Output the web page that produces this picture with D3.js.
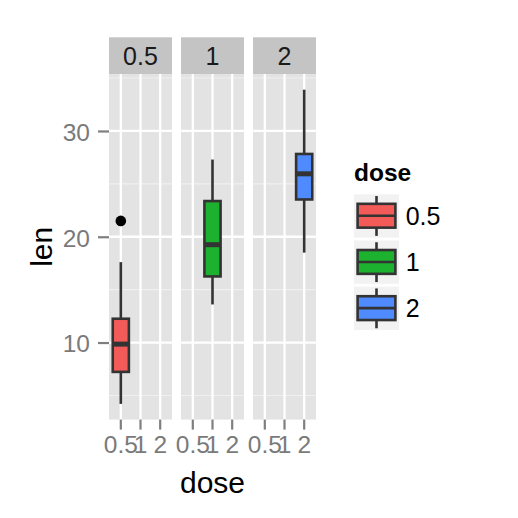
<!DOCTYPE html>
<html>
<head>
<meta charset="utf-8">
<script src="https://cdn.jsdelivr.net/npm/d3@7"></script>
<style>
  body { margin: 0; background: #fff; }
  text { font-family: "Liberation Sans", Arial, Helvetica, sans-serif; }
</style>
</head>
<body>
<div id="chart"></div>
<script>
// ToothGrowth len by dose, boxplot stats
const doses = ["0.5", "1", "2"];
const lenMin = [4.2, 13.6, 18.5];
const lenQ1 = [7.225, 16.25, 23.525];
const lenMedian = [9.85, 19.25, 25.95];
const lenQ3 = [12.25, 23.375, 27.825];
const lenMax = [17.6, 27.3, 33.9];
const lenOutliers = [[21.5], [], []];
const yTicks = [10, 20, 30];
const yMinorTicks = [5, 15, 25, 35];
const fills = ["#F35B59", "#1CB22F", "#4F8AFF"];

const width = 518,
  height = 518;
const plot = { left: 109, right: 316, top: 74, bottom: 419.6 };
const stripTop = 37.3;

const boxes = doses.map((dose, i) => ({
  dose,
  min: lenMin[i],
  q1: lenQ1[i],
  median: lenMedian[i],
  q3: lenQ3[i],
  max: lenMax[i],
  outliers: lenOutliers[i],
}));

const svg = d3
  .select("#chart")
  .append("svg")
  .attr("width", width)
  .attr("height", height);

// facet panels
const facet = d3
  .scaleBand()
  .domain(doses)
  .range([plot.left, plot.right])
  .paddingInner(0.125)
  .paddingOuter(0);

// discrete x inside each panel
const x = d3
  .scaleBand()
  .domain(doses)
  .range([0, facet.bandwidth()])
  .paddingInner(0)
  .paddingOuter(0.1);

const y = d3
  .scaleLinear()
  .domain([2.715, 35.385])
  .range([plot.bottom, plot.top]);

const colour = d3.scaleOrdinal().domain(doses).range(fills);

const xc = (d) => x(d) + x.bandwidth() / 2;
const boxW = x.bandwidth() * 0.82;

const panels = svg
  .selectAll(".panel")
  .data(boxes)
  .join("g")
  .attr("class", "panel")
  .attr("transform", (d) => `translate(${facet(d.dose)}, 0)`);

// strip
panels
  .append("rect")
  .attr("y", stripTop)
  .attr("width", facet.bandwidth())
  .attr("height", plot.top - stripTop)
  .attr("fill", "#C4C4C4");
panels
  .append("text")
  .attr("x", facet.bandwidth() / 2)
  .attr("y", (stripTop + plot.top) / 2 + 9.3)
  .attr("text-anchor", "middle")
  .attr("font-size", 25)
  .attr("fill", "#1A1A1A")
  .text((d) => d.dose);

// panel background + grid
panels
  .append("rect")
  .attr("y", plot.top)
  .attr("width", facet.bandwidth())
  .attr("height", plot.bottom - plot.top)
  .attr("fill", "#E3E3E3");

panels
  .selectAll(".minor")
  .data(yMinorTicks)
  .join("line")
  .attr("class", "minor")
  .attr("x1", 0)
  .attr("x2", facet.bandwidth())
  .attr("y1", (d) => y(d))
  .attr("y2", (d) => y(d))
  .attr("stroke", "#F0F0F0")
  .attr("stroke-width", 1.1);

panels
  .selectAll(".hmajor")
  .data(yTicks)
  .join("line")
  .attr("class", "hmajor")
  .attr("x1", 0)
  .attr("x2", facet.bandwidth())
  .attr("y1", (d) => y(d))
  .attr("y2", (d) => y(d))
  .attr("stroke", "#fff")
  .attr("stroke-width", 2.3);

panels
  .selectAll(".vmajor")
  .data(doses)
  .join("line")
  .attr("class", "vmajor")
  .attr("x1", xc)
  .attr("x2", xc)
  .attr("y1", plot.top)
  .attr("y2", plot.bottom)
  .attr("stroke", "#fff")
  .attr("stroke-width", 2.3);

// x axis per panel
panels.each(function () {
  const ax = d3
    .select(this)
    .append("g")
    .attr("transform", `translate(0, ${plot.bottom})`)
    .call(d3.axisBottom(x).tickSize(10).tickPadding(6));
  ax.select(".domain").remove();
  ax.selectAll(".tick line").attr("stroke", "#7F7F7F").attr("stroke-width", 2.2);
  ax.selectAll(".tick text")
    .attr("font-size", 24.5)
    .attr("fill", "#7A7A7A")
    .attr("font-family", null);
});

// boxplots
const bx = panels.append("g").attr("transform", (d) => `translate(${xc(d.dose)}, 0)`);

bx.append("line")
  .attr("y1", (d) => y(d.max))
  .attr("y2", (d) => y(d.q3))
  .attr("stroke", "#333")
  .attr("stroke-width", 2.6);
bx.append("line")
  .attr("y1", (d) => y(d.q1))
  .attr("y2", (d) => y(d.min))
  .attr("stroke", "#333")
  .attr("stroke-width", 2.6);
bx.append("rect")
  .attr("x", -boxW / 2)
  .attr("width", boxW)
  .attr("y", (d) => y(d.q3))
  .attr("height", (d) => y(d.q1) - y(d.q3))
  .attr("fill", (d) => colour(d.dose))
  .attr("stroke", "#333")
  .attr("stroke-width", 2.6);
bx.append("line")
  .attr("x1", -boxW / 2)
  .attr("x2", boxW / 2)
  .attr("y1", (d) => y(d.median))
  .attr("y2", (d) => y(d.median))
  .attr("stroke", "#333")
  .attr("stroke-width", 5);
bx.selectAll("circle")
  .data((d) => d.outliers)
  .join("circle")
  .attr("cy", (d) => y(d))
  .attr("r", 5.3)
  .attr("fill", "#000");

// y axis
const yAxis = svg
  .append("g")
  .attr("transform", `translate(${plot.left}, 0)`)
  .call(d3.axisLeft(y).tickValues(yTicks).tickSize(11).tickPadding(8));
yAxis.select(".domain").remove();
yAxis.selectAll(".tick line").attr("stroke", "#7F7F7F").attr("stroke-width", 2.2);
yAxis.selectAll(".tick text")
  .attr("font-size", 24.5)
  .attr("fill", "#7A7A7A")
  .attr("font-family", null)
  .attr("dy", "0.38em");

// axis titles
svg
  .append("text")
  .attr("x", (plot.left + plot.right) / 2)
  .attr("y", 493)
  .attr("text-anchor", "middle")
  .attr("font-size", 30)
  .text("dose");

svg
  .append("text")
  .attr("transform", `translate(52, ${(plot.top + plot.bottom) / 2}) rotate(-90)`)
  .attr("text-anchor", "middle")
  .attr("font-size", 30)
  .text("len");

// legend
const legend = svg.append("g").attr("transform", "translate(354, 0)");
legend
  .append("text")
  .attr("y", 180.7)
  .attr("font-size", 24.5)
  .attr("font-weight", "bold")
  .text("dose");

const keyW = 45,
  keyH = 43.3,
  keyStep = 46.2;
const keys = legend
  .selectAll(".key")
  .data(doses)
  .join("g")
  .attr("class", "key")
  .attr("transform", (d, i) => `translate(0, ${194.3 + i * keyStep})`);

keys
  .append("rect")
  .attr("width", keyW)
  .attr("height", keyH)
  .attr("fill", "#F2F2F2");
keys
  .append("line")
  .attr("x1", keyW / 2)
  .attr("x2", keyW / 2)
  .attr("y1", keyH * 0.04)
  .attr("y2", keyH * 0.96)
  .attr("stroke", "#333")
  .attr("stroke-width", 2.6);
keys
  .append("rect")
  .attr("x", keyW * 0.08)
  .attr("width", keyW * 0.84)
  .attr("y", keyH * 0.22)
  .attr("height", keyH * 0.55)
  .attr("fill", (d) => colour(d))
  .attr("stroke", "#333")
  .attr("stroke-width", 2.6);
keys
  .append("line")
  .attr("x1", keyW * 0.08)
  .attr("x2", keyW * 0.92)
  .attr("y1", keyH * 0.495)
  .attr("y2", keyH * 0.495)
  .attr("stroke", "#333")
  .attr("stroke-width", 2.6);
keys
  .append("text")
  .attr("x", 51.7)
  .attr("y", keyH / 2 + 9)
  .attr("font-size", 25)
  .text((d) => d);
</script>
</body>
</html>
